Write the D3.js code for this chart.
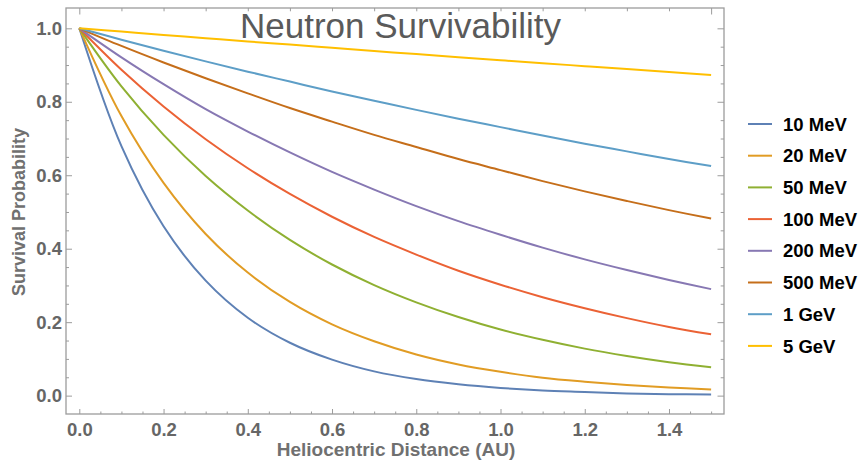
<!DOCTYPE html>
<html>
<head>
<meta charset="utf-8">
<script src="https://cdn.jsdelivr.net/npm/d3@7"></script>
<style>
  html, body { margin: 0; padding: 0; background: #fff; }
  svg { display: block; }
  text { font-family: "Liberation Sans", Arial, sans-serif; }
</style>
</head>
<body>
<svg id="chart" width="860" height="470"></svg>
<script>
// ---- data ----
const distances = [0, 0.1, 0.2, 0.3, 0.4, 0.5, 0.6, 0.7, 0.8, 0.9, 1.0, 1.1, 1.2, 1.3, 1.4, 1.5];
const energies = ["10 MeV", "20 MeV", "50 MeV", "100 MeV", "200 MeV", "500 MeV", "1 GeV", "5 GeV"];
const surv10MeV  = [1, 0.679, 0.461, 0.313, 0.212, 0.144, 0.098, 0.066, 0.045, 0.031, 0.021, 0.014, 0.010, 0.006, 0.004, 0.003];
const surv20MeV  = [1, 0.761, 0.579, 0.440, 0.335, 0.255, 0.194, 0.148, 0.112, 0.085, 0.065, 0.049, 0.038, 0.029, 0.022, 0.017];
const surv50MeV  = [1, 0.842, 0.710, 0.598, 0.504, 0.424, 0.357, 0.301, 0.254, 0.214, 0.180, 0.152, 0.128, 0.108, 0.091, 0.077];
const surv100MeV = [1, 0.887, 0.787, 0.698, 0.619, 0.549, 0.487, 0.432, 0.384, 0.340, 0.302, 0.268, 0.238, 0.211, 0.187, 0.167];
const surv200MeV = [1, 0.921, 0.848, 0.780, 0.719, 0.662, 0.609, 0.561, 0.516, 0.475, 0.438, 0.403, 0.371, 0.342, 0.315, 0.290];
const surv500MeV = [1, 0.952, 0.907, 0.864, 0.823, 0.783, 0.746, 0.710, 0.677, 0.644, 0.614, 0.584, 0.556, 0.530, 0.505, 0.482];
const surv1GeV   = [1, 0.969, 0.939, 0.910, 0.882, 0.855, 0.828, 0.803, 0.778, 0.754, 0.731, 0.708, 0.686, 0.665, 0.644, 0.625];
const surv5GeV   = [1, 0.991, 0.982, 0.973, 0.964, 0.956, 0.947, 0.938, 0.930, 0.921, 0.913, 0.905, 0.897, 0.889, 0.881, 0.873];
const seriesValues = [surv10MeV, surv20MeV, surv50MeV, surv100MeV, surv200MeV, surv500MeV, surv1GeV, surv5GeV];
const colors = ["#5E81B5", "#E19C24", "#8FB032", "#EB6235", "#8778B3", "#C56E1A", "#5D9EC7", "#FFBF00"];
const xTickValues = [0, 0.2, 0.4, 0.6, 0.8, 1.0, 1.2, 1.4];
const yTickValues = [0, 0.2, 0.4, 0.6, 0.8, 1.0];
const xTickLabels = ["0.0", "0.2", "0.4", "0.6", "0.8", "1.0", "1.2", "1.4"];
const yTickLabels = ["0.0", "0.2", "0.4", "0.6", "0.8", "1.0"];

// ---- layout ----
const L = 66, R = 724, T = 8, B = 414;
const svg = d3.select("#chart");
const x = d3.scaleLinear().domain([-0.0316, 1.5306]).range([L, R]);
const y = d3.scaleLinear().domain([-0.050, 1.0553]).range([B, T]);

const frameColor = "#9c9c9c";
const tickLabelColor = "#666666";
const fs = "18.5px";

// minor tick values
const xMinor = d3.range(0, 1.5001, 0.05).filter(v => Math.abs(v / 0.2 - Math.round(v / 0.2)) > 1e-6);
const yMinor = d3.range(0, 1.0001, 0.05).filter(v => Math.abs(v / 0.2 - Math.round(v / 0.2)) > 1e-6);
const topMinor = d3.range(0.1, 1.45, 0.1);

function styleAxis(g) {
  g.select(".domain").remove();
  g.selectAll(".tick line").attr("stroke", frameColor).attr("stroke-width", 1);
}

// bottom axis
svg.append("g").attr("transform", `translate(0,${B})`)
  .call(d3.axisBottom(x).tickValues(xTickValues).tickFormat((d, i) => xTickLabels[i]).tickSize(-5).tickPadding(9))
  .call(styleAxis)
  .call(g => g.selectAll("text").attr("fill", tickLabelColor).style("font-size", fs).style("font-weight", "bold"));
svg.append("g").attr("transform", `translate(0,${B})`)
  .call(d3.axisBottom(x).tickValues(xMinor).tickFormat("").tickSize(-2.5))
  .call(styleAxis);

// left axis
svg.append("g").attr("transform", `translate(${L},0)`)
  .call(d3.axisLeft(y).tickValues(yTickValues).tickFormat((d, i) => yTickLabels[i]).tickSize(-6).tickPadding(4))
  .call(styleAxis)
  .call(g => g.selectAll("text").attr("fill", tickLabelColor).style("font-size", fs).style("font-weight", "bold"));
svg.append("g").attr("transform", `translate(${L},0)`)
  .call(d3.axisLeft(y).tickValues(yMinor).tickFormat("").tickSize(-3))
  .call(styleAxis);

// top axis (no labels)
svg.append("g").attr("transform", `translate(0,${T})`)
  .call(d3.axisTop(x).tickValues([0, 1.5]).tickFormat("").tickSize(-6.5))
  .call(styleAxis);
svg.append("g").attr("transform", `translate(0,${T})`)
  .call(d3.axisTop(x).tickValues(topMinor).tickFormat("").tickSize(-3.3))
  .call(styleAxis);

// right axis (no labels)
svg.append("g").attr("transform", `translate(${R},0)`)
  .call(d3.axisRight(y).tickValues(yTickValues).tickFormat("").tickSize(-6.5))
  .call(styleAxis);
svg.append("g").attr("transform", `translate(${R},0)`)
  .call(d3.axisRight(y).tickValues(yMinor).tickFormat("").tickSize(-3.3))
  .call(styleAxis);

// frame
svg.append("rect").attr("x", L).attr("y", T).attr("width", R - L).attr("height", B - T)
  .attr("fill", "none").attr("stroke", frameColor).attr("stroke-width", 1.3);

// curves
const line = d3.line()
  .x((d, i) => x(distances[i]))
  .y(d => y(d))
  .curve(d3.curveCatmullRom.alpha(0.5));

svg.append("g").selectAll("path")
  .data(seriesValues)
  .join("path")
  .attr("d", d => line(d))
  .attr("fill", "none")
  .attr("stroke", (d, i) => colors[i])
  .attr("stroke-width", 2);

// title
svg.append("text")
  .attr("x", 400.5).attr("y", 38)
  .attr("text-anchor", "middle")
  .attr("fill", "#5a5a5a")
  .style("font-size", "35px")
  .text("Neutron Survivability");

// axis labels
svg.append("text")
  .attr("x", 396).attr("y", 456)
  .attr("text-anchor", "middle")
  .attr("fill", "#707070")
  .style("font-size", "19px").style("font-weight", "bold")
  .text("Heliocentric Distance (AU)");

svg.append("text")
  .attr("transform", "translate(25,212) rotate(-90)")
  .attr("text-anchor", "middle")
  .attr("fill", "#707070")
  .style("font-size", "18px").style("font-weight", "bold")
  .text("Survival Probability");

// legend
const leg = svg.append("g").selectAll("g")
  .data(energies)
  .join("g")
  .attr("transform", (d, i) => `translate(748,${124 + i * 31.7})`);
leg.append("line").attr("x1", 0).attr("x2", 24).attr("y1", 0).attr("y2", 0)
  .attr("stroke", (d, i) => colors[i]).attr("stroke-width", 2);
leg.append("text").attr("x", 35).attr("y", 0).attr("dy", "0.36em")
  .attr("fill", "#000")
  .style("font-size", fs).style("font-weight", "bold")
  .text(d => d);
</script>
</body>
</html>
